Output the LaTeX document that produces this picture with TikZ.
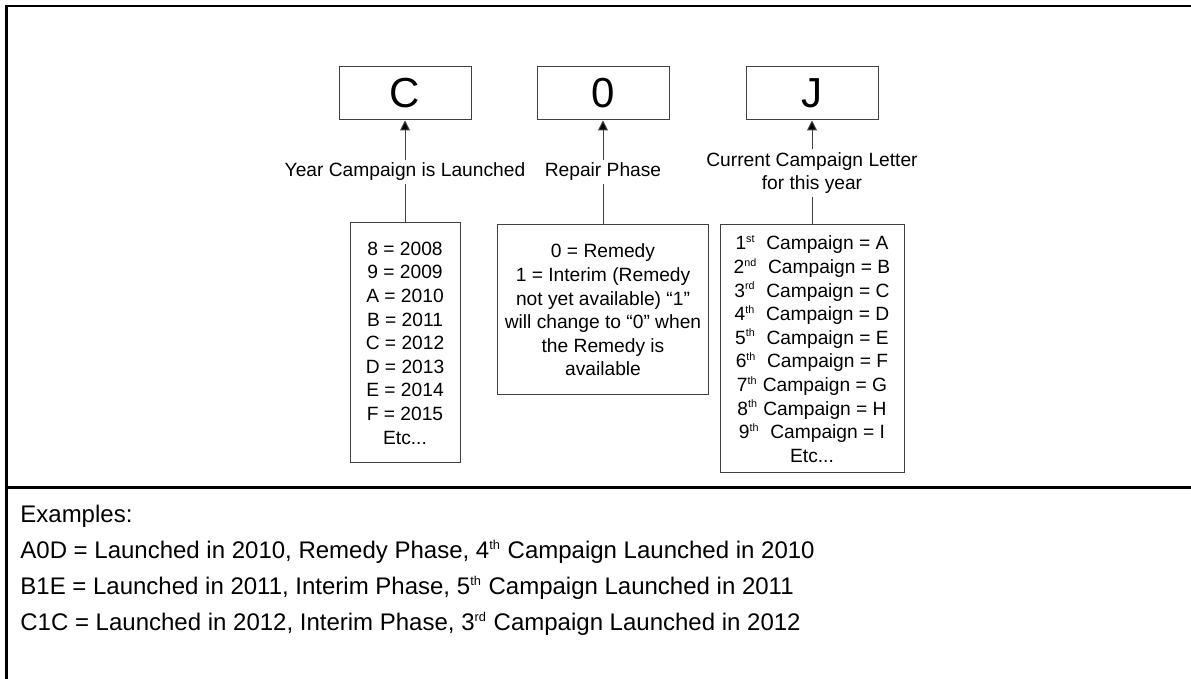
\documentclass[tikz,border=0pt]{standalone}
\usepackage{fontspec}
\setmainfont{Liberation Sans}
\usetikzlibrary{arrows.meta,positioning}
\newcommand{\ord}[1]{\textsuperscript{\scalebox{0.8}{#1}}}

\begin{document}
\begin{tikzpicture}[>={Triangle[length=5pt,width=5pt]},on grid]
       \tikzstyle{code}=[draw=black!75,line width=0.5pt,minimum width=66pt,minimum height=26.5pt,inner sep=0pt,font=\fontsize{21}{24}\selectfont]
       \tikzstyle{tag}=[inner sep=1.5pt,align=center,font=\fontsize{9.6}{11.8}\selectfont]
       \tikzstyle{list}=[draw=black!75,line width=0.5pt,inner sep=0pt,align=center,font=\fontsize{9.6}{11.8}\selectfont]
       \tikzstyle{example}=[anchor=base west,inner sep=0pt,font=\fontsize{12}{14}\selectfont]

       \useasboundingbox (0,0) rectangle (595.5pt,-339.5pt);
       \draw[line width=1.25pt] (600pt,-3pt) -- (3.25pt,-3pt) -- (3.25pt,-345pt);
       \draw[line width=1.25pt] (3.25pt,-243.75pt) -- (600pt,-243.75pt);

       \node[code] (k_1) at (202.5pt,-46.75pt) {C};
       \node[code] (k_2) [right=99pt of k_1]   {0};
       \node[code] (k_3) [right=104.5pt of k_2] {J};

       \node[tag] (t_1) [below=39.25pt of k_1] {Year Campaign is Launched};
       \node[tag] (t_2) [below=39.25pt of k_2] {Repair Phase};
       \node[tag] (t_3) [below=39.75pt of k_3] {Current Campaign Letter\\for this year};

       \node[list,minimum width=55pt,minimum height=120pt] (b_1) [below=124.75pt of k_1]
            {8 = 2008\\9 = 2009\\A = 2010\\B = 2011\\C = 2012\\D = 2013\\E = 2014\\F = 2015\\Etc...};
       \node[list,minimum width=105.5pt,minimum height=85pt] (b_2) [below=108.25pt of k_2]
            {0 = Remedy\\1 = Interim (Remedy\\not yet available) “1”\\will change to “0” when\\the Remedy is\\available};
       \node[list,minimum width=92pt,minimum height=124pt] (b_3) [below=127.75pt of k_3]
            {1\ord{st}~ Campaign = A\\2\ord{nd}~ Campaign = B\\3\ord{rd}~ Campaign = C\\
             4\ord{th}~ Campaign = D\\5\ord{th}~ Campaign = E\\6\ord{th}~ Campaign = F\\
             7\ord{th} Campaign = G\\8\ord{th} Campaign = H\\9\ord{th}~ Campaign = I\\Etc...};

       \path[->,draw=black!75,line width=0.5pt]
       (t_1) edge (k_1)
       (t_2) edge (k_2)
       (t_3) edge (k_3);
       \path[draw=black!75,line width=0.5pt]
       (b_1) edge (t_1)
       (b_2) edge (t_2)
       (b_3) edge (t_3);

       \node[example] (e_0) at (10pt,-261.35pt) {Examples:};
       \node[example] (e_1) at (10pt,-279.3pt) {A0D = Launched in 2010, Remedy Phase, 4\ord{th} Campaign Launched in 2010};
       \node[example] (e_2) at (10pt,-297.3pt) {B1E = Launched in 2011, Interim Phase, 5\ord{th} Campaign Launched in 2011};
       \node[example] (e_3) at (10pt,-315.3pt) {C1C = Launched in 2012, Interim Phase, 3\ord{rd} Campaign Launched in 2012};
     \end{tikzpicture}
\end{document}
